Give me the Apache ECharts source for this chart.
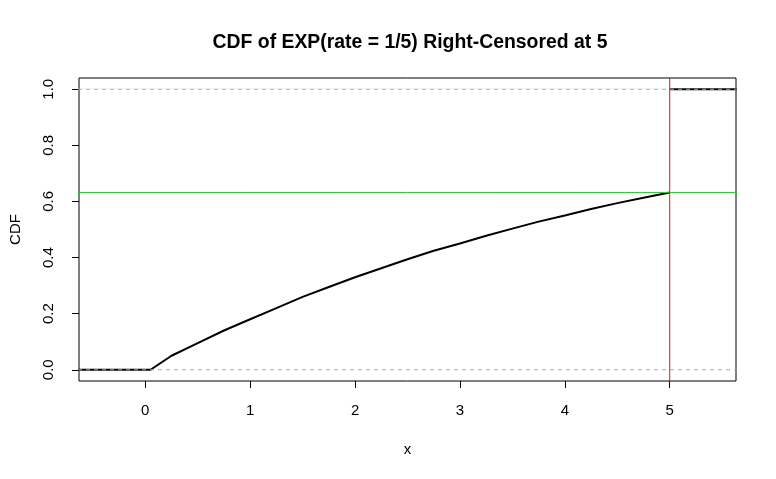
<!DOCTYPE html>
<html>
<head>
<meta charset="utf-8">
<script src="https://cdn.jsdelivr.net/npm/echarts@6/dist/echarts.min.js"></script>
<style>html,body{margin:0;padding:0;background:#fff}#c{width:776px;height:479px}</style>
</head>
<body>
<div id="c"></div>
<script>
var titleText = 'CDF of EXP(rate = 1/5) Right-Censored at 5';
var xTicks = [0, 1, 2, 3, 4, 5];
var yTicks = [0, 0.2, 0.4, 0.6, 0.8, 1.0];
var yTickLabels = ['0.0', '0.2', '0.4', '0.6', '0.8', '1.0'];
// CDF curve (x, CDF), below the censoring point
var cdfX = [-1, 0, 0.05, 0.25, 0.5, 0.75, 1, 1.25, 1.5, 1.75, 2, 2.25, 2.5, 2.75, 3, 3.25, 3.5, 3.75, 4, 4.25, 4.5, 4.75, 5];
var cdfY = [0, 0, 0, 0.05, 0.095, 0.14, 0.18, 0.22, 0.26, 0.295, 0.33, 0.362, 0.394, 0.424, 0.45, 0.478, 0.503, 0.528, 0.55, 0.573, 0.594, 0.613, 0.632];
// censored part (mass at 5): CDF is 1 from 5 on
var tailX = [5, 6];
var tailY = [1, 1];
var refH = [0, 1];          // grey dashed reference lines
var censorAt = 5;           // red vertical line
var cdfAtCensor = 0.632;    // green horizontal line
var xMin = -0.632, xMax = 5.632, yMin = -0.04, yMax = 1.04;

function pairs(xs, ys) { return xs.map(function (x, i) { return [x, ys[i]]; }); }
function hline(v) { return [[xMin - 1, v], [xMax + 1, v]]; }
function vline(v) { return [[v, yMin - 1], [v, yMax + 1]]; }
function lineSeries(data, color, width, type, z) {
  return { type: 'line', data: data, showSymbol: false, clip: true, z: z, silent: true,
    lineStyle: { color: color, width: width, type: type } };
}
var font = 'Liberation Sans, Arial, sans-serif';
var chart = echarts.init(document.getElementById('c'));
var series = [
  lineSeries(pairs(cdfX, cdfY), '#000', 2, 'solid', 2),
  lineSeries(pairs(tailX, tailY), '#000', 2, 'solid', 2),
  lineSeries(hline(cdfAtCensor), '#33c033', 1, 'solid', 3),
  lineSeries(vline(censorAt), '#c0281e', 1, 'solid', 3)
];
refH.forEach(function (h) { series.push(lineSeries(hline(h), '#aaaaaa', 1, [4, 4], 4)); });
chart.setOption({
  animation: false,
  backgroundColor: '#fff',
  title: {
    text: titleText, left: 405, top: 28, textAlign: 'center',
    textStyle: { fontFamily: font, fontSize: 19.4, fontWeight: 'bold', color: '#000' }
  },
  grid: { left: 78, right: 40, top: 78, bottom: 98, show: true, borderColor: '#000', borderWidth: 1, backgroundColor: 'transparent' },
  xAxis: {
    type: 'value', min: xMin, max: xMax,
    name: 'x', nameLocation: 'middle', nameGap: 61,
    nameTextStyle: { fontFamily: font, fontSize: 15, color: '#000' },
    axisLine: { show: false, onZero: false },
    splitLine: { show: false },
    axisTick: { show: true, length: 7, customValues: xTicks, lineStyle: { color: '#000' } },
    axisLabel: { customValues: xTicks, margin: 22, fontFamily: font, fontSize: 15, color: '#000' }
  },
  yAxis: {
    type: 'value', min: yMin, max: yMax,
    name: 'CDF', nameLocation: 'middle', nameGap: 56,
    nameTextStyle: { fontFamily: font, fontSize: 15, color: '#000' },
    axisLine: { show: false, onZero: false },
    splitLine: { show: false },
    axisTick: { show: true, length: 7, customValues: yTicks, lineStyle: { color: '#000' } },
    axisLabel: {
      customValues: yTicks, rotate: 90, margin: 23, fontFamily: font, fontSize: 15, color: '#000',
      formatter: function (v) { var i = yTicks.indexOf(v); return i >= 0 ? yTickLabels[i] : v.toFixed(1); }
    }
  },
  series: series
});
</script>
</body>
</html>
